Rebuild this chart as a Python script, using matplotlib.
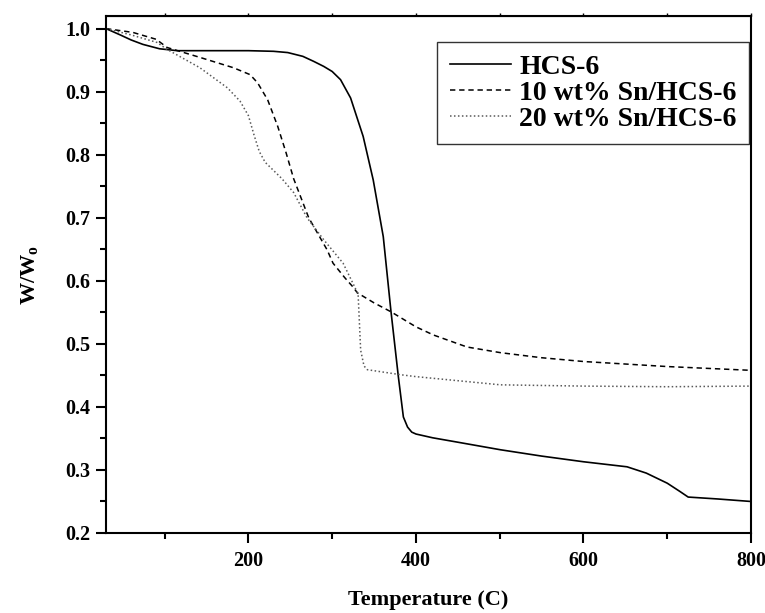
import matplotlib
matplotlib.use("Agg")
import matplotlib.pyplot as plt
from matplotlib.ticker import MultipleLocator

plt.rcParams['font.family'] = ['Liberation Serif', 'DejaVu Serif']
plt.rcParams['font.weight'] = 'bold'
plt.rcParams['mathtext.fontset'] = 'custom'
plt.rcParams['mathtext.bf'] = 'Liberation Serif:bold'
plt.rcParams['mathtext.rm'] = 'Liberation Serif:bold'

# TGA curves
hcs_t = [30, 47, 60, 74, 94, 115, 150, 200, 230, 247, 265, 278, 290, 300, 310, 322,
         337, 349, 361, 370, 379, 385, 390, 395, 400, 420, 450, 501, 550, 600, 652,
         675, 700, 715, 725, 760, 800]
hcs_w = [1.0, 0.99, 0.982, 0.975, 0.968, 0.965, 0.965, 0.965, 0.964, 0.962, 0.956,
         0.948, 0.94, 0.932, 0.919, 0.89, 0.829, 0.76, 0.67, 0.554, 0.448, 0.384,
         0.368, 0.36, 0.357, 0.351, 0.344, 0.332, 0.322, 0.313, 0.305, 0.295, 0.279,
         0.266, 0.257, 0.254, 0.25]

sn10_t = [30, 62, 90, 103, 143, 182, 202, 211, 223, 235, 245, 254, 272, 294, 301,
          315, 325, 330, 350, 370, 400, 421, 461, 501, 550, 600, 700, 800]
sn10_w = [1.0, 0.994, 0.983, 0.97, 0.954, 0.938, 0.927, 0.914, 0.887, 0.845, 0.803,
          0.762, 0.70, 0.649, 0.628, 0.605, 0.59, 0.581, 0.565, 0.551, 0.527, 0.514,
          0.495, 0.486, 0.478, 0.472, 0.464, 0.458]

sn20_t = [30, 60, 91, 103, 142, 175, 190, 200, 207, 213, 220, 230, 240, 254, 270,
          290, 313, 327, 331, 334, 338, 342, 382, 400, 501, 600, 700, 800]
sn20_w = [1.0, 0.99, 0.978, 0.967, 0.938, 0.906, 0.885, 0.862, 0.83, 0.805, 0.788,
          0.775, 0.762, 0.74, 0.70, 0.665, 0.628, 0.59, 0.578, 0.49, 0.465, 0.459,
          0.451, 0.448, 0.435, 0.433, 0.432, 0.433]

labels = ['HCS-6', '10 wt% Sn/HCS-6', '20 wt% Sn/HCS-6']

fig = plt.figure(figsize=(7.65, 6.13), dpi=100)
ax = fig.add_axes([106 / 765, 1 - 533 / 613, 645 / 765, 517 / 613])

ax.plot(hcs_t, hcs_w, color='black', lw=1.2, label=labels[0])
ax.plot(sn10_t, sn10_w, color='black', lw=1.1, ls=(0, (3.5, 2.5)), label=labels[1])
ax.plot(sn20_t, sn20_w, color='0.35', lw=1.1, ls=(0, (1, 1.6)), label=labels[2])

ax.set_xlim(30, 800)
ax.set_ylim(0.2, 1.02)
ax.xaxis.set_major_locator(MultipleLocator(200))
ax.xaxis.set_minor_locator(MultipleLocator(100))
ax.yaxis.set_major_locator(MultipleLocator(0.1))
ax.yaxis.set_minor_locator(MultipleLocator(0.05))
ax.yaxis.set_major_formatter(matplotlib.ticker.FormatStrFormatter('%.1f'))

for s in ax.spines.values():
    s.set_linewidth(1.5)
ax.tick_params(which='major', direction='out', length=7, width=1.5, labelsize=14.5)
ax.tick_params(which='minor', direction='out', length=4, width=1.5)
ax.tick_params(axis='x', which='major', pad=6)
ax.tick_params(axis='y', which='major', pad=4)

top = ax.secondary_xaxis('top')
top.set_xticks([100, 200, 300, 400, 500, 600, 700, 800])
top.tick_params(direction='out', length=2, width=1, labeltop=False)

ax.set_xlabel('Temperature (C)', fontsize=16, fontweight='bold', labelpad=14)
ax.set_ylabel(r'W/W$_\mathbf{o}$', fontsize=16, fontweight='bold', labelpad=18)

leg = ax.legend(loc='upper right', bbox_to_anchor=(0.997, 0.9497), borderaxespad=0,
                prop={'weight': 'bold', 'size': 20}, frameon=True,
                fancybox=False, edgecolor='black', handlelength=2.2,
                handletextpad=0.3, labelspacing=0.02, borderpad=0.45)
leg.get_frame().set_linewidth(1.0)

fig.savefig('out.png', dpi=100)
